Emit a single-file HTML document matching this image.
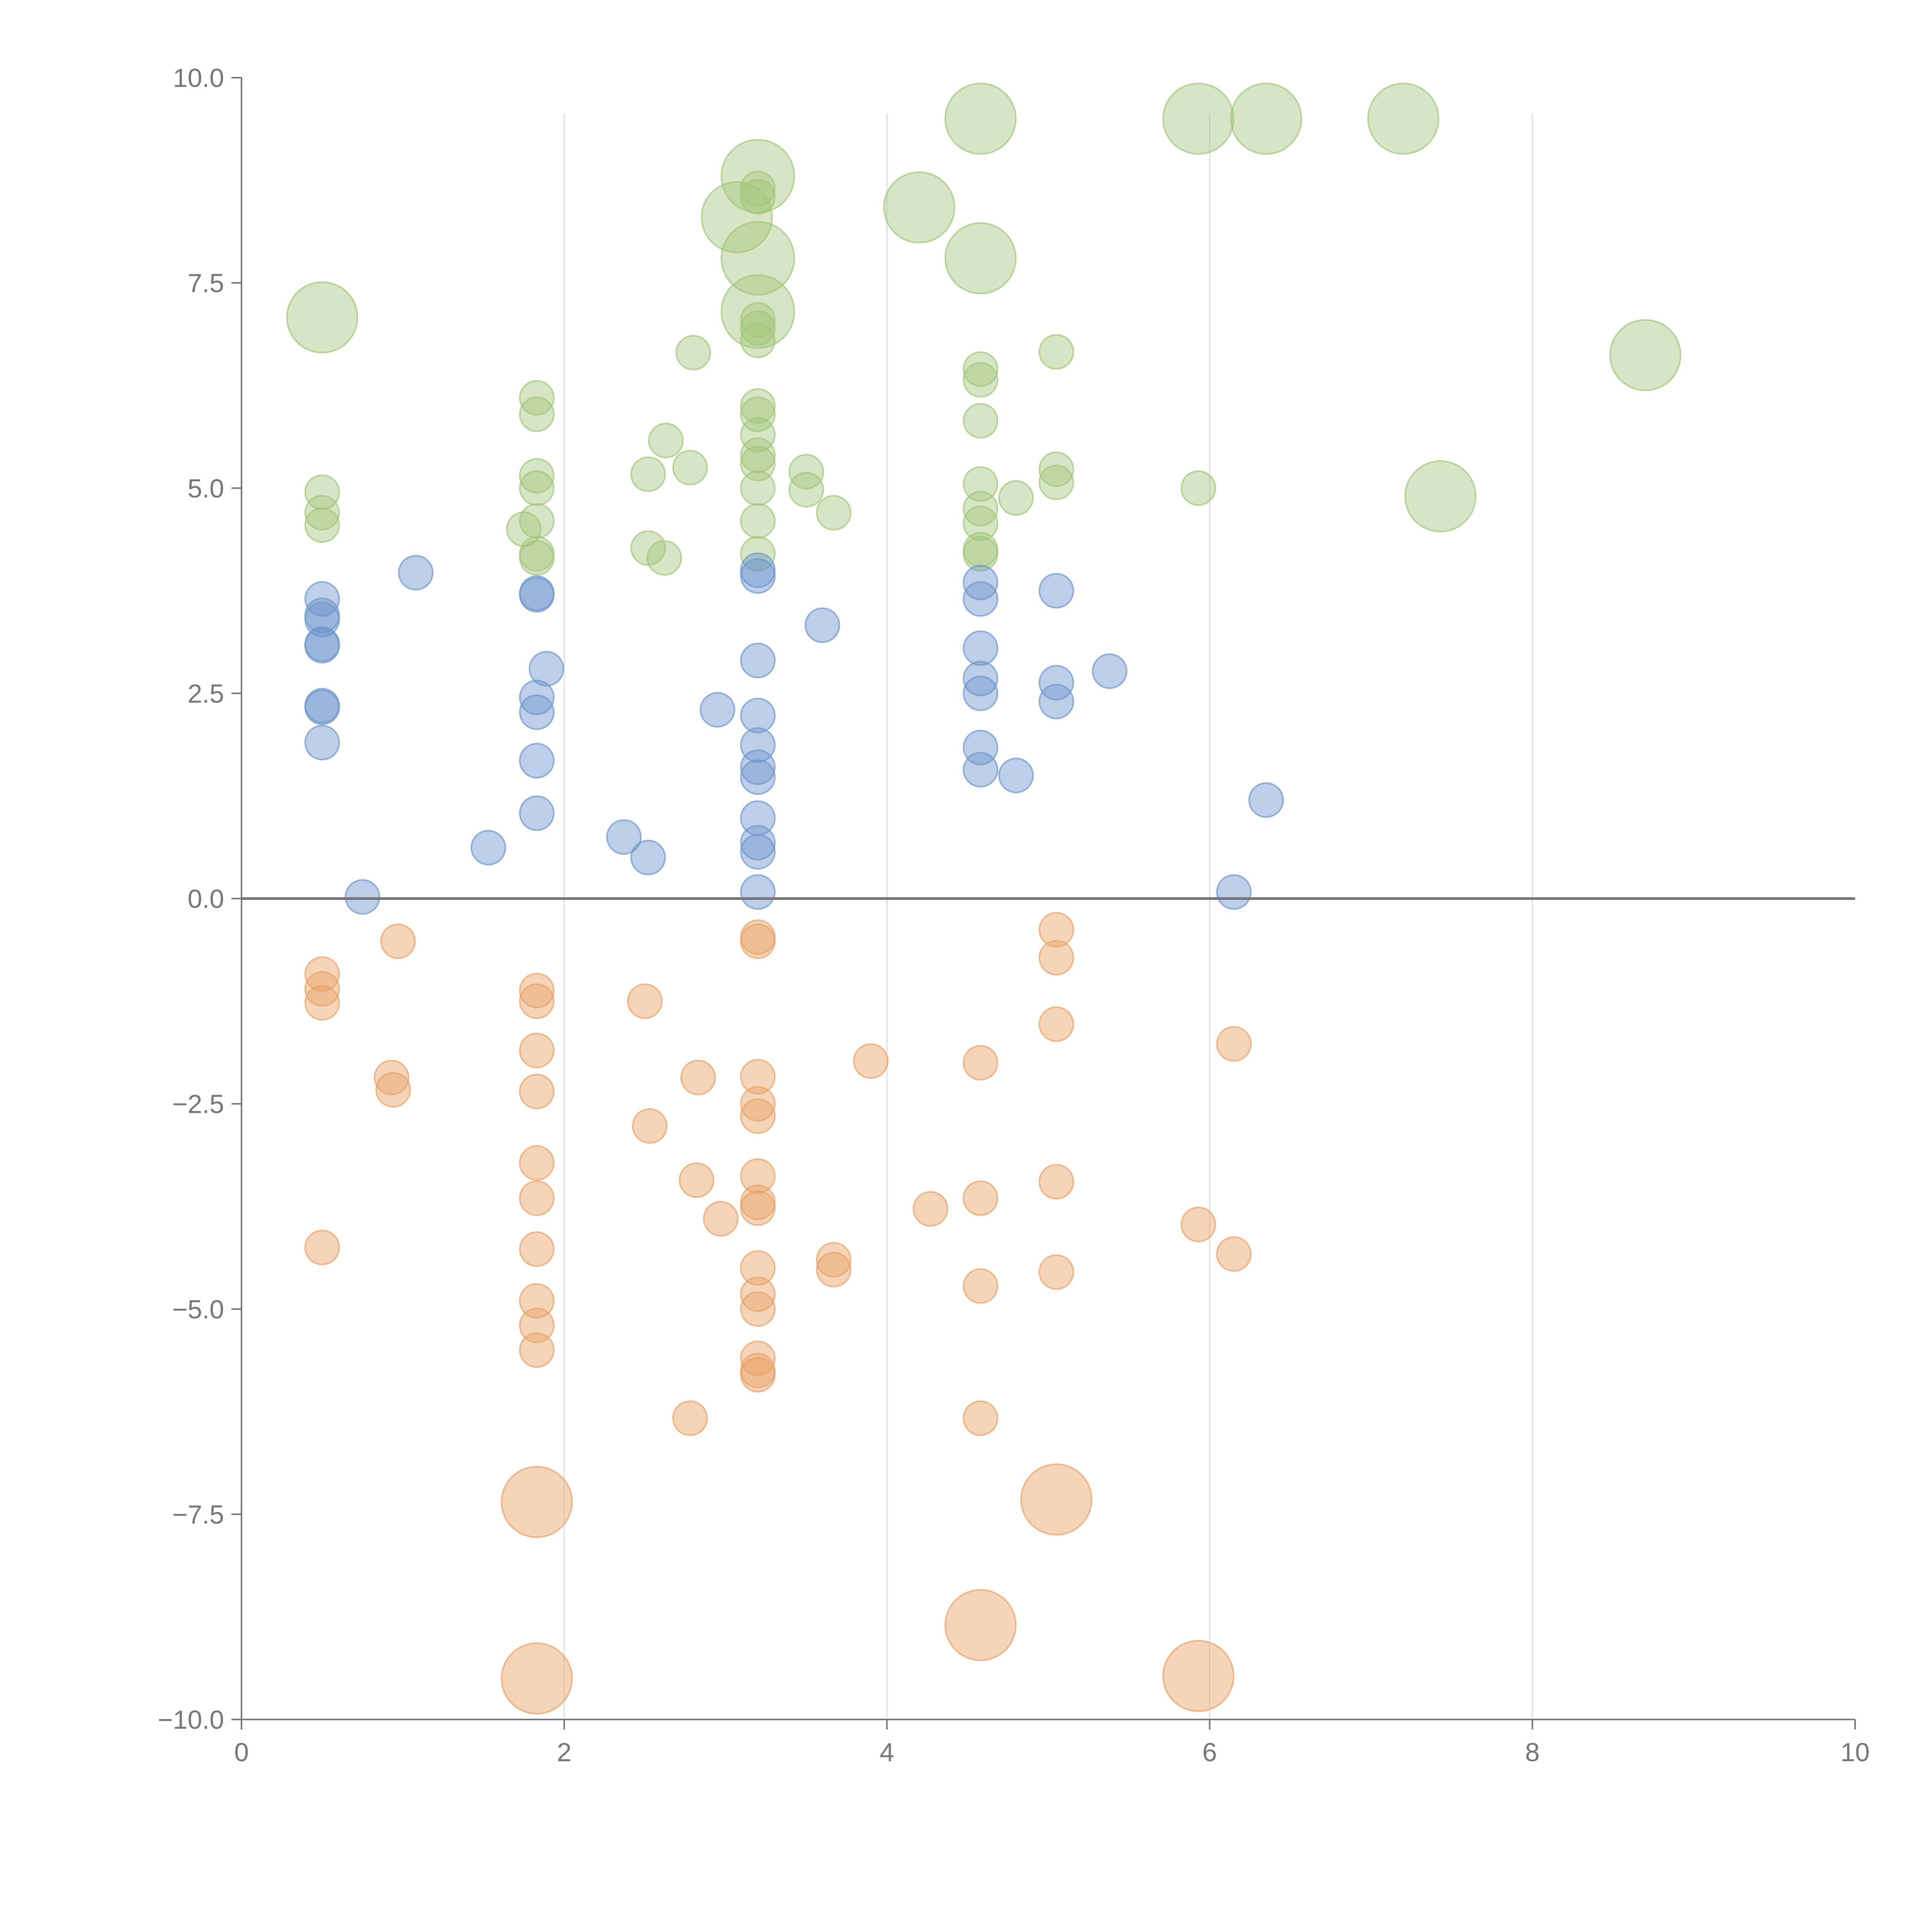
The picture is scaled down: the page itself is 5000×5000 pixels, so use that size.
<!DOCTYPE html>
<html><head><meta charset="utf-8">
<style>
html,body{margin:0;padding:0;background:#fff;}
svg{display:block;font-family:"Liberation Sans",Arial,sans-serif;}
</style></head>
<body>
<svg id="chart" width="5000" height="5000" viewBox="0 0 5000 5000" xmlns="http://www.w3.org/2000/svg">
<rect width="5000" height="5000" fill="#fff"/>
<g id="grid"></g>
<g id="points"></g>
<g id="axes"></g>
</svg>
<script>
const xTicks = [0, 2, 4, 6, 8, 10];
const yTicks = [-10, -7.5, -5, -2.5, 0, 2.5, 5, 7.5, 10];

const greenX = [0.5,0.5,0.5,1.83,1.83,1.83,1.83,1.83,1.75,1.83,1.83,2.8,2.63,2.52,2.78,2.52,2.62,3.2,3.2,3.2,3.2,3.2,3.2,3.2,3.2,3.2,3.2,3.2,3.2,3.2,3.5,3.5,3.67,4.58,4.58,4.58,4.58,4.58,4.58,4.58,4.58,4.8,5.05,5.05,5.05,5.93,
 0.5,3.07,3.2,3.2,3.2,4.2,4.58,4.58,5.93,6.35,7.2,7.43,8.7];
const greenY = [4.95,4.7,4.55,6.1,5.9,5.15,5.0,4.6,4.5,4.2,4.15,6.65,5.58,5.17,5.25,4.27,4.15,6.0,5.9,5.65,5.4,5.3,5.0,4.6,4.2,6.8,6.95,7.05,8.55,8.65,5.2,4.98,4.7,6.45,6.32,5.82,5.05,4.75,4.57,4.25,4.2,4.88,6.66,5.23,5.07,5.0,
 7.08,8.3,8.8,7.8,7.15,8.42,9.5,7.8,9.5,9.5,9.5,4.9,6.62];
const greenS = [1,1,1,1,1,1,1,1,1,1,1,1,1,1,1,1,1,1,1,1,1,1,1,1,1,1,1,1,1,1,1,1,1,1,1,1,1,1,1,1,1,1,1,1,1,1,
 4.3,4.3,4.6,4.6,4.6,4.3,4.3,4.3,4.3,4.3,4.3,4.3,4.3];

const blueX = [0.5,0.5,0.5,0.5,0.5,0.5,0.5,0.5,0.75,1.08,1.53,1.83,1.83,1.89,1.83,1.83,1.83,1.83,2.37,2.52,2.95,3.2,3.2,3.2,3.2,3.2,3.2,3.2,3.2,3.2,3.2,3.2,3.6,4.58,4.58,4.58,4.58,4.58,4.58,4.58,4.8,5.05,5.05,5.05,5.38,6.15,6.35];
const blueY = [3.65,3.45,3.4,3.1,3.08,2.35,2.33,1.9,0.02,3.97,0.62,3.72,3.7,2.8,2.45,2.27,1.68,1.04,0.75,0.5,2.3,4.0,3.93,2.9,2.23,1.87,1.6,1.48,0.98,0.68,0.57,0.08,3.33,3.85,3.65,3.05,2.68,2.5,1.84,1.57,1.5,3.75,2.63,2.4,2.77,0.08,1.2];
const blueS = blueX.map(() => 1);

const orangeX = [0.5,0.5,0.5,0.5,0.97,0.93,0.94,1.83,1.83,1.83,1.83,1.83,1.83,1.83,1.83,1.83,1.83,2.5,2.53,2.83,2.82,2.97,2.78,3.2,3.2,3.2,3.2,3.2,3.2,3.2,3.2,3.2,3.2,3.2,3.2,3.2,3.2,3.67,3.67,3.9,4.27,4.58,4.58,4.58,4.58,5.05,5.05,5.05,5.05,5.05,5.93,6.15,6.15,
 1.83,1.83,4.58,5.05,5.93];
const orangeY = [-0.92,-1.1,-1.27,-4.25,-0.52,-2.18,-2.33,-1.12,-1.25,-1.85,-2.35,-3.22,-3.65,-4.27,-4.9,-5.2,-5.5,-1.25,-2.77,-2.18,-3.43,-3.9,-6.33,-0.47,-0.52,-2.17,-2.5,-2.65,-3.38,-3.7,-3.77,-4.5,-4.82,-5.0,-5.6,-5.75,-5.8,-4.4,-4.52,-1.98,-3.78,-2.0,-3.65,-4.72,-6.33,-0.38,-0.72,-1.53,-3.45,-4.55,-3.97,-1.77,-4.33,
 -7.35,-9.5,-8.85,-7.32,-9.47];
const orangeS = [1,1,1,1,1,1,1,1,1,1,1,1,1,1,1,1,1,1,1,1,1,1,1,1,1,1,1,1,1,1,1,1,1,1,1,1,1,1,1,1,1,1,1,1,1,1,1,1,1,1,1,1,1,
 4.3,4.3,4.3,4.3,4.3];

const NS = "http://www.w3.org/2000/svg";
const L = 625, R = 4801, T = 201, B = 4450;
const xScale = v => L + (v - 0) / 10 * (R - L);
const yScale = v => B - (v + 10) / 20 * (B - T);
const rScale = s => 44 * Math.sqrt(s);
function mk(tag, attrs, parent) {
  const e = document.createElementNS(NS, tag);
  for (const k in attrs) e.setAttribute(k, attrs[k]);
  parent.appendChild(e);
  return e;
}
const grid = document.getElementById('grid');
const pts = document.getElementById('points');
const axes = document.getElementById('axes');

xTicks.forEach(t => {
  if (t === 0 || t === 10) return;
  const g = mk('line', {x1: xScale(t), x2: xScale(t), y1: 294, y2: B, stroke: '#dddddd', 'stroke-width': 3}, grid);
  
  
});

function series(xs, ys, ss, color, name) {
  const g = mk('g', {}, pts);
  
  
  xs.forEach((x, i) => {
    const c = mk('circle', {cx: xScale(x), cy: yScale(ys[i]), r: rScale(ss[i]), fill: color, 'fill-opacity': 0.45, stroke: color, 'stroke-opacity': 0.7, 'stroke-width': 4}, g);
    
    
  });
}
series(greenX, greenY, greenS, '#a3c57a', 'green');
series(blueX, blueY, blueS, '#6d95cb', 'blue');
series(orangeX, orangeY, orangeS, '#e8a165', 'orange');

const z = mk('line', {x1: L, x2: R, y1: yScale(0), y2: yScale(0), stroke: '#777', 'stroke-width': 7}, axes);


const ya = mk('line', {x1: L, x2: L, y1: T, y2: B, stroke: '#777', 'stroke-width': 4}, axes);


const xa = mk('line', {x1: L, x2: R, y1: B, y2: B, stroke: '#777', 'stroke-width': 4}, axes);



yTicks.forEach(t => {
  const y = yScale(t);
  const tk = mk('line', {x1: L - 26, x2: L, y1: y, y2: y, stroke: '#777', 'stroke-width': 4}, axes);
  
  
  const tx = mk('text', {x: L - 45, y: y + 24, 'text-anchor': 'end', 'font-size': 68, fill: '#777'}, axes);
  tx.textContent = (t < 0 ? '\u2212' : '') + Math.abs(t).toFixed(1);
  
  
});
xTicks.forEach(t => {
  const x = xScale(t);
  const tk = mk('line', {x1: x, x2: x, y1: B, y2: B + 26, stroke: '#777', 'stroke-width': 4}, axes);
  
  
  const tx = mk('text', {x: x, y: B + 108, 'text-anchor': 'middle', 'font-size': 68, fill: '#777'}, axes);
  tx.textContent = String(t);
  
  
});
</script>
</body></html>
